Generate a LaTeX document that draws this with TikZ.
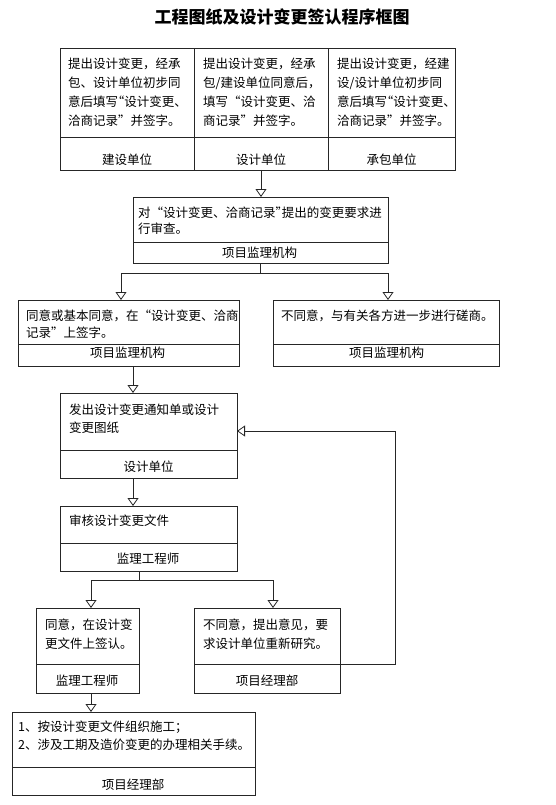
\documentclass[tikz,border=0pt]{standalone}
\usepackage{fontspec}
\newfontfamily\cjk{Noto Sans CJK SC}
\usetikzlibrary{arrows.meta,fit}
\newcommand\hoq{\makebox[0.5em][r]{“}}
\newcommand\hcq{\makebox[0.5em][l]{”}}
\begin{document}
\begin{tikzpicture}[x=1pt,y=-1pt,
  ln/.style={line width=0.8pt, draw=black!85},
  part/.style={ln, inner sep=0pt, outer sep=0pt},
  arr/.style={ln, -{Triangle[open,width=11pt,length=8pt]}},
  txt/.style={anchor=west, inner sep=0pt, align=left, font=\cjk\fontsize{12.5}{#1}\selectfont},
  txt/.default=18,
  lbl/.style={inner sep=0pt, font=\cjk\fontsize{12.5}{15}\selectfont}]
\useasboundingbox (0,0) rectangle (555,805);

\node[font=\cjk\bfseries\fontsize{17}{20}\selectfont] (title) at (282,17) {工程图纸及设计变更签认程序框图};

% top box: three columns
\node[part, fit={(60,48) (194,137)}] (t1u) {};
\node[part, fit={(194,48) (328,137)}] (t2u) {};
\node[part, fit={(328,48) (455,137)}] (t3u) {};
\node[part, fit={(60,137) (194,170)}] (t1l) {};
\node[part, fit={(194,137) (328,170)}] (t2l) {};
\node[part, fit={(328,137) (455,170)}] (t3l) {};
\node[txt=19.1] (t1t) at (68,92) {提出设计变更，经承\\包、设计单位初步同\\意后填写\hoq 设计变更、\\洽商记录”并签字。};
\node[txt=19.1] (t2t) at (203,92) {提出设计变更，经承\\包/建设单位同意后，\\填写“设计变更、洽\\商记录”并签字。};
\node[txt=19.1] (t3t) at (337,92) {提出设计变更，经建\\设/设计单位初步同\\意后填写\hoq 设计变更、\\洽商记录”并签字。};
\node[lbl] (t1b) at (127,160) {建设单位};
\node[lbl] (t2b) at (261,160) {设计单位};
\node[lbl] (t3b) at (391.5,160) {承包单位};

% review box
\node[part, fit={(133,197) (388,242)}] (rvu) {};
\node[part, fit={(133,242) (388,263)}] (rvl) {};
\node[txt=16] (rvt) at (138,221) {对“设计变更、洽商记录\hcq 提出的变更要求进\\行审查。};
\node[lbl] (rvb) at (259.5,253) {项目监理机构};

% agree / disagree
\node[part, fit={(18,300) (239,344)}] (au) {};
\node[part, fit={(18,344) (239,366)}] (al) {};
\node[txt=17] (at) at (26,324.5) {同意或基本同意，在“设计变更、洽商\\记录”上签字。};
\node[lbl] (ab) at (127.5,353) {项目监理机构};

\node[part, fit={(273,300) (499,344)}] (bu) {};
\node[part, fit={(273,344) (499,366)}] (bl) {};
\node[txt] (bt) at (281,316) {不同意，与有关各方进一步进行磋商。};
\node[lbl] (bb) at (386.5,353) {项目监理机构};

% issue change
\node[part, fit={(60,393) (237,450)}] (fau) {};
\node[part, fit={(60,450) (237,478)}] (fal) {};
\node[txt=18] (fat) at (69,419) {发出设计变更通知单或设计\\变更图纸};
\node[lbl] (fab) at (148.5,467) {设计单位};

% review file
\node[part, fit={(60,506) (237,543)}] (shu) {};
\node[part, fit={(60,543) (237,571)}] (shl) {};
\node[txt] (sht) at (69,521) {审核设计变更文件};
\node[lbl] (shb) at (148,559) {监理工程师};

% c / d
\node[part, fit={(36,608) (139,664)}] (cu) {};
\node[part, fit={(36,664) (139,693)}] (cl) {};
\node[txt=19] (ct) at (45,634.5) {同意，在设计变\\更文件上签认。};
\node[lbl] (cb) at (87,681) {监理工程师};

\node[part, fit={(194,608) (340,664)}] (du) {};
\node[part, fit={(194,664) (340,693)}] (dl) {};
\node[txt=19] (dt) at (203,634.5) {不同意，提出意见，要\\求设计单位重新研究。};
\node[lbl] (db) at (267,681) {项目经理部};

% final
\node[part, fit={(12,712) (255,767)}] (eu) {};
\node[part, fit={(12,767) (255,795)}] (el) {};
\node[txt=18] (et) at (18,736) {1、按设计变更文件组织施工；\\2、涉及工期及造价变更的办理相关手续。};
\node[lbl] (eb) at (133,785) {项目经理部};

% connectors
\coordinate (ja) at (121,273);
\coordinate (jb) at (388,273);
\coordinate (xa) at (133,0);
\coordinate (xb) at (139,0);
\coordinate (jc) at (91,580);
\coordinate (jd) at (273,580);
\coordinate (fb1) at (395,664);
\coordinate (fb2) at (395,431);

\draw[arr] (t2l.south) -- (rvu.north -| t2l.south);
\draw[ln] (rvl.south) -- (rvl.south |- ja);
\draw[arr] (rvl.south |- ja) -- (ja) -- (au.north -| ja);
\draw[arr] (rvl.south |- jb) -- (jb) -- (bu.north -| jb);
\draw[arr] (al.south -| xa) -- (fau.north -| xa);
\draw[arr] (fal.south -| xa) -- (shu.north -| xa);
\draw[ln] (shl.south -| xb) -- (jc -| xb);
\draw[arr] (jc -| xb) -- (jc) -- (cu.north -| jc);
\draw[arr] (jc -| xb) -- (jd) -- (du.north -| jd);
\draw[arr] (cl.south -| jc) -- (eu.north -| jc);
\draw[arr] (dl.north east) -- (fb1) -- (fb2) -- (fau.east |- fb2);
\end{tikzpicture}
\end{document}
